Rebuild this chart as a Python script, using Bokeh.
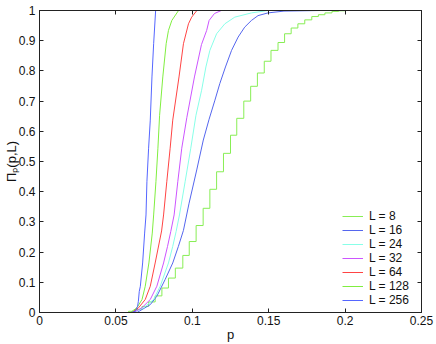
from bokeh.plotting import figure
from bokeh.models import Range1d, LinearAxis, FixedTicker, CustomJSTickFormatter
from bokeh.embed import file_html
from bokeh.resources import INLINE

# ---- data ----
p8 = [0.028, 0.0583, 0.0625, 0.0671, 0.0714, 0.0757, 0.0801, 0.0844, 0.0889, 0.0938,
      0.0980, 0.1025, 0.1071, 0.1115, 0.1159, 0.1204, 0.1250, 0.1291, 0.1337, 0.1382,
      0.1426, 0.1471, 0.1515, 0.1561, 0.1604, 0.1647, 0.1691, 0.1736, 0.1782, 0.1825,
      0.1868, 0.1914, 0.1958, 0.2001, 0.25]
v8 = [0.0, 0.004, 0.010, 0.020, 0.035, 0.055, 0.081, 0.114, 0.147, 0.189,
      0.235, 0.288, 0.345, 0.408, 0.466, 0.527, 0.587, 0.643, 0.700, 0.749,
      0.793, 0.832, 0.868, 0.894, 0.923, 0.942, 0.956, 0.969, 0.980, 0.986,
      0.992, 0.997, 0.999, 1.0, 1.0]

p16 = [0.040, 0.0638, 0.0725, 0.0768, 0.0822, 0.0872, 0.0909, 0.0942, 0.0979, 0.1029,
       0.1072, 0.1110, 0.1148, 0.1180, 0.1217, 0.1257, 0.1300, 0.1343, 0.1387, 0.1430,
       0.1495, 0.1600, 0.1840, 0.25]
v16 = [0.0, 0.0, 0.026, 0.054, 0.109, 0.164, 0.219, 0.272, 0.362, 0.472,
       0.571, 0.640, 0.703, 0.758, 0.813, 0.868, 0.912, 0.945, 0.967, 0.983,
       0.992, 0.998, 1.0, 1.0]

p24 = [0.045, 0.0618, 0.0682, 0.0747, 0.0790, 0.0844, 0.0872, 0.0894, 0.0916, 0.0953,
       0.0990, 0.1024, 0.1061, 0.1089, 0.1115, 0.1159, 0.1213, 0.1278, 0.1387, 0.1495, 0.25]
v24 = [0.0, 0.0, 0.016, 0.043, 0.087, 0.164, 0.219, 0.268, 0.323, 0.433,
       0.544, 0.653, 0.736, 0.813, 0.868, 0.923, 0.956, 0.978, 0.992, 1.0, 1.0]

p32 = [0.045, 0.0616, 0.0671, 0.0725, 0.0768, 0.0812, 0.0838, 0.0859, 0.0881, 0.0905,
       0.0931, 0.0964, 0.1014, 0.1060, 0.1094, 0.1110, 0.1145, 0.1190, 0.25]
v32 = [0.0, 0.0, 0.016, 0.043, 0.087, 0.164, 0.219, 0.268, 0.323, 0.433,
       0.544, 0.645, 0.780, 0.887, 0.934, 0.967, 0.990, 1.0, 1.0]

p64 = [0.045, 0.0605, 0.0649, 0.0692, 0.0725, 0.0757, 0.0799, 0.0812, 0.0833, 0.0855,
       0.0872, 0.0913, 0.0942, 0.0975, 0.0996, 0.1030, 0.25]
v64 = [0.0, 0.0, 0.016, 0.043, 0.087, 0.164, 0.270, 0.323, 0.433, 0.544,
       0.637, 0.780, 0.890, 0.956, 0.978, 1.0, 1.0]

p128 = [0.045, 0.0595, 0.0638, 0.0671, 0.0692, 0.0716, 0.0738, 0.0747, 0.0762, 0.0775,
        0.0786, 0.0807, 0.0829, 0.0844, 0.0866, 0.0910, 0.25]
v128 = [0.0, 0.0, 0.016, 0.043, 0.087, 0.164, 0.263, 0.323, 0.433, 0.544,
        0.653, 0.780, 0.890, 0.934, 0.967, 1.0, 1.0]

p256 = [0.045, 0.0600, 0.0627, 0.0642, 0.0647, 0.0653, 0.0660, 0.0675, 0.0688, 0.0697,
        0.0703, 0.0714, 0.0725, 0.0736, 0.0747, 0.0760, 0.25]
v256 = [0.0, 0.0, 0.004, 0.021, 0.037, 0.070, 0.087, 0.164, 0.263, 0.323,
        0.433, 0.544, 0.637, 0.780, 0.890, 1.0, 1.0]

x_ticks = [0, 0.05, 0.1, 0.15, 0.2, 0.25]
x_tick_labels = ["0", "0.05", "0.1", "0.15", "0.2", "0.25"]
y_ticks = [0, 0.1, 0.2, 0.3, 0.4, 0.5, 0.6, 0.7, 0.8, 0.9, 1.0]
y_tick_labels = ["0", "0.1", "0.2", "0.3", "0.4", "0.5", "0.6", "0.7", "0.8", "0.9", "1"]

FONT = "Liberation Sans"
AX = "#222222"
TXT = "#111111"

p = figure(width=436, height=344, output_backend="svg", toolbar_location=None,
           x_range=Range1d(0, 0.25), y_range=Range1d(0, 1),
           min_border_left=37, min_border_right=15, min_border_top=10, min_border_bottom=31)
p.xgrid.visible = False
p.ygrid.visible = False
p.outline_line_color = AX
p.background_fill_color = "white"

def style_axis(ax, ticks, labels=None):
    ax.ticker = FixedTicker(ticks=ticks)
    ax.major_tick_in = 4
    ax.major_tick_out = 0
    ax.minor_tick_line_color = None
    ax.axis_line_color = AX
    ax.major_tick_line_color = AX
    if labels is not None:
        ax.major_label_overrides = {t: l for t, l in zip(ticks, labels)}
        ax.major_label_text_font = FONT
        ax.major_label_text_font_size = "12px"
        ax.major_label_text_color = TXT
        ax.axis_label_text_font = FONT
        ax.axis_label_text_font_size = "13px"
        ax.axis_label_text_font_style = "normal"
        ax.axis_label_text_color = TXT
    else:
        ax.formatter = CustomJSTickFormatter(code="return ''")
        ax.major_label_standoff = 0

xa = p.xaxis[0]
style_axis(xa, x_ticks, x_tick_labels)
xa.major_label_standoff = 3
xa.axis_label = "p"
xa.axis_label_standoff = -1

ya = p.yaxis[0]
style_axis(ya, y_ticks, y_tick_labels)
ya.major_label_standoff = 4
ya.axis_label = "Π\u209a(p,L)"
ya.axis_label_standoff = -3

top = LinearAxis()
style_axis(top, x_ticks)
p.add_layout(top, "above")
right = LinearAxis()
style_axis(right, y_ticks)
p.add_layout(right, "right")

series = [
    (p8, v8, "L = 8", "#88ee55", True),
    (p16, v16, "L = 16", "#5566ee", False),
    (p24, v24, "L = 24", "#88ffe8", False),
    (p32, v32, "L = 32", "#cc55ff", False),
    (p64, v64, "L = 64", "#ff4444", False),
    (p128, v128, "L = 128", "#80ee40", False),
    (p256, v256, "L = 256", "#5566ff", False),
]
for xs, ys, lab, col, stepped in series:
    if stepped:
        p.step(xs, ys, mode="after", line_color=col, line_width=1, legend_label=lab)
    else:
        p.line(xs, ys, line_color=col, line_width=1, legend_label=lab)

lg = p.legend[0]
lg.location = (303, 5)
lg.label_text_font = FONT
lg.label_text_font_size = "12px"
lg.label_text_color = TXT
lg.glyph_width = 21
lg.glyph_height = 12
lg.label_height = 12
lg.spacing = 0
lg.padding = 0
lg.margin = 0
lg.label_standoff = 6
lg.border_line_color = None
lg.background_fill_alpha = 0

open("out.html", "w").write(file_html(p, INLINE))
